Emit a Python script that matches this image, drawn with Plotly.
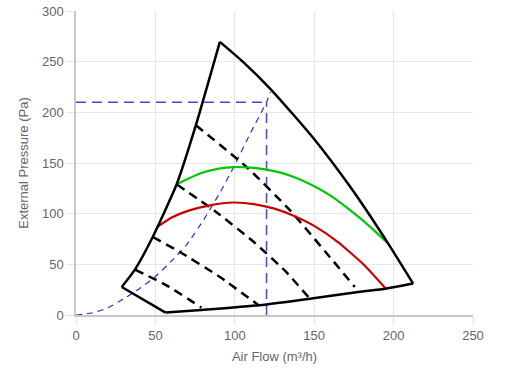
import plotly.graph_objects as go

# Operating envelope (black outline)
left_x = [28.8, 37.1, 48.3, 63.4, 75.5, 90.6]
left_y = [27.6, 44.8, 77, 129, 187.3, 269.5]
right_x = [90.6, 105, 122.5, 149.8, 172.9, 196.6, 212.3]
right_y = [269.5, 250, 223, 174, 126, 70.5, 31]
lowleft_x = [28.8, 56.4]
lowleft_y = [27.6, 2.4]
bottom_x = [56.4, 79, 115.4, 147.3, 176.6, 195.1, 212.3]
bottom_y = [2.4, 5, 9.6, 16, 22.5, 26, 31]

# Fan curves
green_x = [63.4, 78, 90, 100, 110, 120, 130, 140, 150, 160, 175, 186, 196.6]
green_y = [129, 139.6, 144.5, 146, 145.5, 143.5, 140, 134.5, 127, 118, 100.5, 86, 70.5]
red_x = [51.2, 60, 70, 85, 99, 112, 125, 137, 150, 165, 181, 195.1]
red_y = [87, 96, 102.5, 108.5, 111, 109.5, 105, 98, 88, 72, 50, 26]

# Dashed iso-lines
iso1_x = [75.5, 107.4, 134.7, 159.8, 175.6]
iso1_y = [187.3, 146.1, 103.4, 57.3, 27.6]
iso2_x = [63.4, 88, 112, 132, 147.3]
iso2_y = [129, 102, 72, 43, 16]
iso3_x = [48.3, 65.4, 90.6, 115]
iso3_y = [77, 62.2, 37.5, 9.6]
iso4_x = [37.1, 57, 79]
iso4_y = [44.8, 29.3, 7.3]

# System curve (blue dashed)
sys_x = [0, 10, 20, 30, 40, 50, 60, 70, 80, 90, 100, 110, 120, 122.5]
sys_y = [0, 2, 7, 16, 26, 38, 53, 70, 93, 119, 148, 180, 210, 220]

# Duty point
duty_x = 120
duty_y = 210

fig = go.Figure()

def add(x, y, color, width, dash="solid", smooth=0.5):
    line = dict(color=color, width=width, dash=dash)
    if smooth:
        line.update(shape="spline", smoothing=smooth)
    fig.add_trace(go.Scatter(x=x, y=y, mode="lines", line=line,
                             hoverinfo="skip", showlegend=False))

add(sys_x, sys_y, "#2b2bdd", 1.2, "6px,5px")
add([0, duty_x], [duty_y, duty_y], "#4545dd", 1.5, "10px,6px", 0)
add([duty_x, duty_x], [0, duty_y], "#4545dd", 1.5, "10px,6px", 0)

for ix, iy in [(iso1_x, iso1_y), (iso2_x, iso2_y), (iso3_x, iso3_y), (iso4_x, iso4_y)]:
    add(ix, iy, "#000000", 2.5, "9px,6px", 0.5)

add(green_x, green_y, "#00c800", 2.2)
add(red_x, red_y, "#cc0000", 2.2)

add(left_x, left_y, "#000000", 2.5, "solid", 0.5)
add(right_x, right_y, "#000000", 2.5, "solid", 0.6)
add(lowleft_x, lowleft_y, "#000000", 2.5, "solid", 0)
add(bottom_x, bottom_y, "#000000", 2.5, "solid", 0.5)

font = dict(family="Liberation Sans, Arial, sans-serif", size=13, color="#666666")
axis_common = dict(
    showgrid=True, gridcolor="#e6e6e6", gridwidth=1, automargin=False,
    zeroline=False, showline=True, linecolor="#c8c8c8", linewidth=1.5,
    ticks="outside", ticklen=8, tickcolor="#e6e6e6", tickwidth=1,
    tickfont=font,
)

fig.update_layout(
    width=508, height=373,
    margin=dict(l=76, r=35, t=11, b=58),
    paper_bgcolor="white", plot_bgcolor="white",
    xaxis=dict(range=[0, 250], dtick=50,
               title=dict(text="Air Flow (m³/h)", standoff=10, font=font),
               **axis_common),
    yaxis=dict(range=[0, 300], dtick=50,
               title=dict(text="External Pressure (Pa)", standoff=10, font=font),
               **axis_common),
)

fig.write_html("out.html", config={"displayModeBar": False},
               post_script="document.body.style.margin='0px';document.body.style.overflow='hidden';")
